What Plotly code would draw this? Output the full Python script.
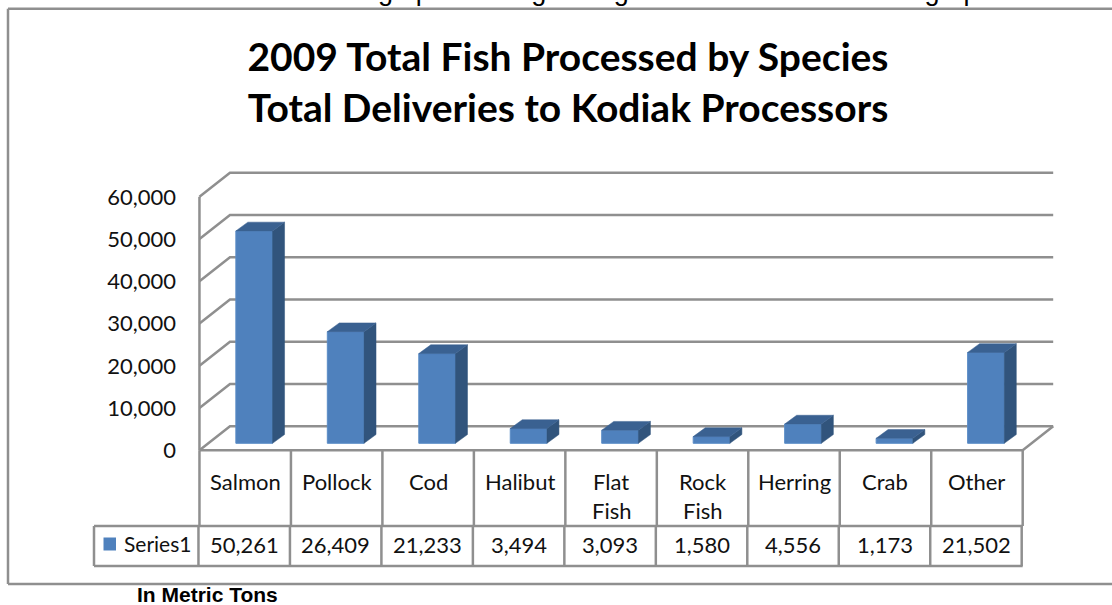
import plotly.graph_objects as go

# ---- data ----
categories = ["Salmon", "Pollock", "Cod", "Halibut", "Flat<br>Fish", "Rock<br>Fish", "Herring", "Crab", "Other"]
values = [50261, 26409, 21233, 3494, 3093, 1580, 4556, 1173, 21502]
value_labels = ["50,261", "26,409", "21,233", "3,494", "3,093", "1,580", "4,556", "1,173", "21,502"]
y_ticks = [0, 10000, 20000, 30000, 40000, 50000, 60000]
y_tick_labels = ["0", "10,000", "20,000", "30,000", "40,000", "50,000", "60,000"]
series_name = "Series1"

W, H = 1112, 605
CAT_PX = 91.47          # pixels per category
CAT0_PX = 245.2         # pixel of first category centre
PX_PER_VAL = 0.004225   # pixels per metric ton
FLOOR_PX = 450.3        # front floor
BAR_BASE_PX = 443.3     # bars stand a little behind the front edge
GRAY = "#8f8f8f"
LW = 2.5
FRONT, SIDE, TOP = "#4f81bd", "#31547c", "#3a6191"
TXT = "#111111"
FONT = "Lato"

positions = list(range(len(categories)))
px2x = lambda p: (p - CAT0_PX) / CAT_PX
px2yfrac = lambda p: 1 - p / H

wall_dx, wall_dy = 30.5 / CAT_PX, 24.0 / PX_PER_VAL
bar_w, bar_shift = 36.7 / CAT_PX, 9.0 / CAT_PX
bar_dx, bar_dy = 12.0 / CAT_PX, 8.8 / PX_PER_VAL
left, right = -0.5, len(categories) - 0.5

fig = go.Figure()

# walls and gridlines (front-frame axis)
gx, gy = [], []
for v in y_ticks:
    gx += [left, left + wall_dx, right + wall_dx, None]
    gy += [v, v + wall_dy, v + wall_dy, None]
gx += [left, left, None, left, right, right + wall_dx]
gy += [0, y_ticks[-1], None, 0, 0, wall_dy]
fig.add_trace(go.Scatter(x=gx, y=gy, mode="lines", line=dict(color=GRAY, width=LW),
                         hoverinfo="skip", showlegend=False, xaxis="x", yaxis="y"))

# bars, on an overlay axis that sits a little behind the front edge
fig.add_trace(go.Bar(x=positions, y=values, width=bar_w, offset=bar_shift - bar_w / 2,
                     marker=dict(color=FRONT, line=dict(color="#5a8cc6", width=1)),
                     name=series_name, showlegend=False, xaxis="x", yaxis="y2"))
for p, v in zip(positions, values):
    xr = p + bar_shift + bar_w / 2
    xl = p + bar_shift - bar_w / 2
    fig.add_trace(go.Scatter(x=[xr, xr + bar_dx, xr + bar_dx, xr, xr], y=[0, bar_dy, v + bar_dy, v, 0],
                             fill="toself", fillcolor=SIDE, mode="lines", line=dict(color=SIDE, width=0.5),
                             hoverinfo="skip", showlegend=False, xaxis="x", yaxis="y2"))
    fig.add_trace(go.Scatter(x=[xl, xl + bar_dx, xr + bar_dx, xr, xl], y=[v, v + bar_dy, v + bar_dy, v, v],
                             fill="toself", fillcolor=TOP, mode="lines", line=dict(color=TOP, width=0.5),
                             hoverinfo="skip", showlegend=False, xaxis="x", yaxis="y2"))

# data table
row1_bot, row2_bot = 526, 566
legend_left = 94
shapes = []
def hline(x0, x1, y):
    shapes.append(dict(type="line", xref="paper", yref="paper", x0=x0 / W, x1=x1 / W,
                       y0=px2yfrac(y), y1=px2yfrac(y), line=dict(color=GRAY, width=LW)))
def vline(x, y0, y1):
    shapes.append(dict(type="line", xref="paper", yref="paper", x0=x / W, x1=x / W,
                       y0=px2yfrac(y0), y1=px2yfrac(y1), line=dict(color=GRAY, width=LW)))
table_right = CAT0_PX + CAT_PX * right
hline(legend_left, table_right, row1_bot)
hline(legend_left, table_right, row2_bot)
vline(legend_left, row1_bot, row2_bot)
for i in range(len(categories) + 1):
    xp = CAT0_PX + CAT_PX * (i - 0.5)
    vline(xp, FLOOR_PX, row1_bot)
    vline(xp - 1, row1_bot, row2_bot)
# chart border
hline(8, W + 5, 8.8)
hline(8, W + 5, 584)
vline(8, 8.8, 584)
# legend key
shapes.append(dict(type="rect", xref="paper", yref="paper", x0=103.5 / W, x1=116 / W,
                   y0=px2yfrac(550.5), y1=px2yfrac(537.5), fillcolor=FRONT, line=dict(width=0)))

ann = []
for p, c, lab in zip(positions, categories, value_labels):
    lines = c.split("<br>")
    ann.append(dict(x=p, xref="x", y=px2yfrac(481), yref="paper", text=lines[0], showarrow=False,
                    xanchor="center", yanchor="middle", font=dict(family=FONT, size=22, color=TXT)))
    if len(lines) > 1:
        ann.append(dict(x=p, xref="x", y=px2yfrac(510), yref="paper", text=lines[1], showarrow=False,
                        xanchor="center", yanchor="middle", font=dict(family=FONT, size=22, color=TXT)))
    ann.append(dict(x=p - 0.01, xref="x", y=px2yfrac(544), yref="paper", text=lab, showarrow=False,
                    xanchor="center", yanchor="middle", font=dict(family=FONT, size=22, color=TXT)))
ann.append(dict(x=157 / W, xref="paper", y=px2yfrac(543), yref="paper", text=series_name, showarrow=False,
                xanchor="center", yanchor="middle", font=dict(family=FONT, size=21, color=TXT)))
ann.append(dict(x=207 / W, xref="paper", y=px2yfrac(594), yref="paper", text="<b>In Metric Tons</b>", showarrow=False,
                xanchor="center", yanchor="middle", font=dict(family="Liberation Sans", size=21, color="#000000")))
ann.append(dict(x=1074 / W, xref="paper", y=px2yfrac(-8.5), yref="paper", showarrow=False,
                text="ame and through processing during 2009 is indicated in this graph below",
                xanchor="right", yanchor="middle", font=dict(family="Liberation Sans", size=27, color="#000000")))

fig.update_layout(
    width=W, height=H, autosize=False, margin=dict(l=0, r=0, t=0, b=0),
    paper_bgcolor="white", plot_bgcolor="white", showlegend=False, barmode="overlay",
    title=dict(text="<b>2009 Total Fish Processed by Species<br>Total Deliveries to Kodiak Processors</b>",
               x=568 / W, xanchor="center", y=px2yfrac(71), yanchor="middle",
               font=dict(family=FONT, size=39, color="#000000")),
    xaxis=dict(range=[px2x(0), px2x(W)], visible=False, fixedrange=True),
    yaxis=dict(range=[(FLOOR_PX - H) / PX_PER_VAL, FLOOR_PX / PX_PER_VAL],
               tickvals=y_ticks, ticktext=y_tick_labels, showgrid=False, zeroline=False, showline=False,
               ticks="", anchor="free", position=176 / W, side="left", fixedrange=True,
               tickfont=dict(family=FONT, size=22, color=TXT)),
    yaxis2=dict(range=[(BAR_BASE_PX - H) / PX_PER_VAL, BAR_BASE_PX / PX_PER_VAL], overlaying="y",
                visible=False, fixedrange=True),
    shapes=shapes, annotations=ann,
)

fig.write_html("out.html", config=dict(displayModeBar=False),
               post_script="document.body.style.margin='0';document.documentElement.style.overflow='hidden';")
